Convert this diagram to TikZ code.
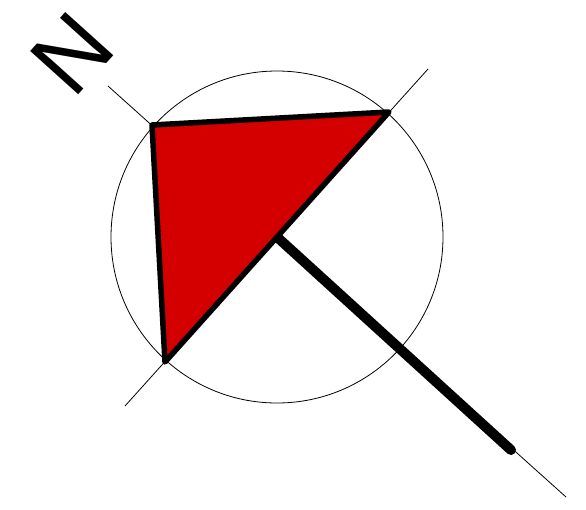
\documentclass[tikz,border=0pt]{standalone}
\usepackage{fontspec}
\setmainfont{Liberation Sans}
\definecolor{needlered}{RGB}{212,0,0}

\begin{document}
\begin{tikzpicture}[x=1pt,y=-1pt]
    \useasboundingbox (0,0) rectangle (586,509);
    \coordinate (c) at (277,237);
    % axes of the rose
    \draw[line width=0.8pt] (108,86)--(566,497);
    \draw[line width=0.8pt] (428,69)--(125,406);
    \draw[line width=0.8pt] (c) circle[radius=166pt];
    % tail and needle
    \draw[line width=10pt, line cap=round] (c)--(511,450);
    \filldraw[fill=needlered, line width=5.5pt, line join=round] (152,125)--(389,112)--(165,362)--cycle;
    \node[rotate=48, font=\fontsize{94}{94}\selectfont] (north) at (72,54) {N};
\end{tikzpicture}
\end{document}
